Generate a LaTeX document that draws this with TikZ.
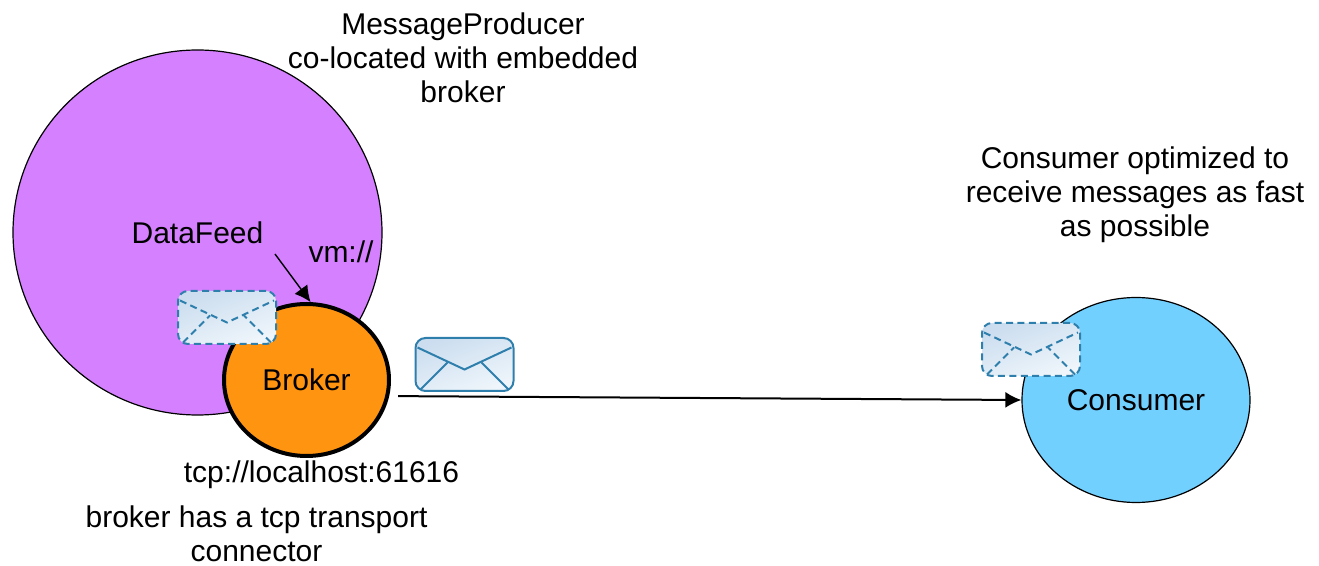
\documentclass[tikz,border=0pt]{standalone}
\usepackage{fontspec}
\setmainfont{Liberation Sans}
\usepackage{xcolor}
\usetikzlibrary{calc}
\usetikzlibrary{arrows.meta,shapes.geometric}
\usetikzlibrary{positioning}
\definecolor{feedpurple}{HTML}{D580FF}
\definecolor{brokerorange}{HTML}{FF9410}
\definecolor{consumerblue}{HTML}{72D0FF}
\definecolor{envline}{HTML}{2F7FAD}
\definecolor{envleft}{HTML}{CBDDEF}
\definecolor{envright}{HTML}{EFF6FB}
\tikzset{
  txt/.style={align=center,inner sep=0pt,font=\fontsize{15}{17}\selectfont},
  blob/.style={ellipse,draw=black,line width=.6pt,inner sep=0pt,font=\fontsize{15}{17}\selectfont},
  env/.style={rectangle,rounded corners=5pt,draw=envline,line width=1pt,
    left color=envleft,right color=envright,shading angle=20,
    minimum width=49pt,minimum height=26.5pt,inner sep=0pt},
  envflap/.style={draw=envline,line width=1pt},
  envdash/.style={dash pattern=on 3.5pt off 2.2pt},
  pointer/.style={-{Latex[length=8pt,width=8pt]},draw=black},
}
\newcommand{\envelope}[4]{
  \node[env,#4] (#1) at (#2,#3) {};
  \draw[envflap,#4] ($(#1.center)+(-47,-17)$) -- ($(#1.center)+(0,5)$) -- ($(#1.center)+(47,-17)$);
  \draw[envflap,#4] ($(#1.center)+(-44,25)$) -- ($(#1.center)+(-17,-2)$);
  \draw[envflap,#4] ($(#1.center)+(44,25)$) -- ($(#1.center)+(17,-2)$);
}
\begin{document}
\begin{tikzpicture}[x=.5pt,y=-.5pt]
  \useasboundingbox (0,0) rectangle (1319,566);
  \node[blob,fill=feedpurple,minimum width=184.5pt,minimum height=182.5pt] (feed) at (197.5,232.5) {DataFeed};
  \node[blob,fill=brokerorange,line width=2pt,minimum width=82.5pt,minimum height=76pt] (broker) at (306.5,380) {Broker};
  \node[blob,fill=consumerblue,minimum width=114pt,minimum height=102.5pt] (consumer) at (1136,400) {Consumer};

  \envelope{envfeed}{227}{317.5}{envdash}
  \envelope{envwire}{464.5}{364.5}{solid}
  \envelope{envcons}{1031}{349.5}{envdash}

  \node[txt] (vm) at (341,252) {vm://};
  \coordinate (feedtail) at (275,254);
  \draw[pointer,line width=.7pt] (feedtail) -- (broker.87);
  \draw[pointer,line width=1pt,shorten <=4.5pt] (broker.-11) -- (consumer.west);

  \node[txt] (producer) at (463,58) {MessageProducer\\co-located with embedded\\broker};
  \node[txt] (consnote) at (1135,194.5) {Consumer optimized to\\receive messages as fast\\as possible};
  \node[txt,below=1pt of broker.south,xshift=7.5pt] (tcp) {tcp://localhost:61616};
  \node[txt,below=8.5pt of tcp,xshift=-32.5pt] (tcpnote) {broker has a tcp transport\\connector};
\end{tikzpicture}
\end{document}
